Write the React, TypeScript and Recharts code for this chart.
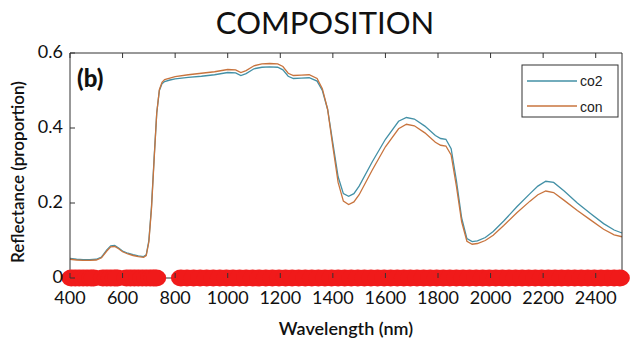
import React from "react";
import { ComposedChart, Line, Scatter, XAxis, YAxis } from "recharts";

// wavelength (nm) and reflectance
const wavelengths = [
  400, 425, 450, 475, 500, 520, 540, 555, 570, 585, 600, 620, 640, 660, 680, 690,
  700, 710, 720, 730, 740, 750, 760, 780, 800, 850, 900, 950, 1000, 1030, 1050,
  1070, 1100, 1130, 1160, 1190, 1210, 1230, 1250, 1280, 1310, 1340, 1360, 1380,
  1400, 1420, 1440, 1460, 1480, 1500, 1550, 1600, 1650, 1680, 1710, 1750, 1790,
  1810, 1830, 1850, 1870, 1890, 1910, 1930, 1950, 1980, 2010, 2050, 2100, 2150,
  2180, 2210, 2240, 2280, 2330, 2380, 2430, 2470, 2500,
];

const co2 = [
  0.052, 0.05, 0.049, 0.049, 0.05, 0.056, 0.075, 0.086, 0.087, 0.08, 0.072, 0.066,
  0.062, 0.059, 0.057, 0.062, 0.1, 0.19, 0.32, 0.44, 0.5, 0.518, 0.524, 0.528,
  0.531, 0.535, 0.538, 0.542, 0.548, 0.547, 0.54, 0.545, 0.558, 0.562, 0.563,
  0.562, 0.555, 0.538, 0.532, 0.533, 0.534, 0.525, 0.5, 0.45, 0.36, 0.27, 0.225,
  0.218, 0.225, 0.245, 0.31, 0.37, 0.418, 0.428, 0.424, 0.405, 0.38, 0.372, 0.37,
  0.345, 0.26, 0.16, 0.105, 0.097, 0.099, 0.108, 0.124, 0.152, 0.19, 0.225, 0.245,
  0.258, 0.255, 0.232, 0.2, 0.172, 0.145, 0.128, 0.12,
];

const con = [
  0.05, 0.048, 0.047, 0.047, 0.048, 0.054, 0.072, 0.083, 0.084, 0.078, 0.07, 0.064,
  0.06, 0.057, 0.055, 0.06, 0.096, 0.185, 0.315, 0.44, 0.502, 0.522, 0.529, 0.533,
  0.537, 0.542, 0.546, 0.55, 0.556, 0.555, 0.548, 0.553, 0.566, 0.571, 0.572,
  0.571, 0.564, 0.546, 0.54, 0.541, 0.542, 0.532, 0.505, 0.45, 0.35, 0.255, 0.205,
  0.196, 0.203, 0.222, 0.288, 0.35, 0.398, 0.41, 0.406, 0.387, 0.362, 0.354,
  0.352, 0.328, 0.245, 0.15, 0.098, 0.09, 0.092, 0.1, 0.114, 0.14, 0.174,
  0.205, 0.222, 0.232, 0.228, 0.207, 0.18, 0.155, 0.13, 0.115, 0.11,
];

// wavelengths flagged as significant (red markers on the baseline)
const sigWavelengths = [
  405, 420, 435, 450, 465, 480, 490,
  525, 540, 555, 570, 580,
  615, 630, 645, 660, 675, 690, 705, 718, 728,
  822, 845, 870, 895, 920, 945, 970, 995, 1020, 1045, 1070, 1095, 1120, 1145,
  1170, 1195, 1220, 1245, 1270, 1295, 1320, 1345, 1370, 1395, 1420, 1445, 1470,
  1495, 1520, 1545, 1570, 1595, 1620, 1645, 1670, 1695, 1720, 1745, 1770, 1795,
  1820, 1845, 1870, 1895, 1920, 1945, 1970, 1995, 2020, 2045, 2070, 2095, 2120,
  2145, 2170, 2195, 2220, 2245, 2270, 2295, 2320, 2345, 2370, 2395, 2420, 2445,
  2470, 2492,
];

const xTicks = [400, 600, 800, 1000, 1200, 1400, 1600, 1800, 2000, 2200, 2400];
const yTicks = [0, 0.2, 0.4, 0.6];

const data = wavelengths.map((w, i) => ({ w, co2: co2[i], con: con[i] }));
const sigData = sigWavelengths.map((w) => ({ w, y: 0 }));

const FONT = "Lato, 'Open Sans', sans-serif";
const AXIS = "#333";
const CO2_COLOR = "#4390a6";
const CON_COLOR = "#c8743e";

const BottomTick = ({ x, y, payload }: any) => (
  <g>
    <line x1={x} y1={y} x2={x} y2={y - 5} stroke={AXIS} />
    <text x={x} y={y + 26} textAnchor="middle" fontSize={18} fontFamily={FONT} fill="#111">
      {payload.value}
    </text>
  </g>
);

const TopTick = ({ x, y }: any) => (
  <line x1={x} y1={y} x2={x} y2={y + 5} stroke={AXIS} />
);

const LeftTick = ({ x, y, payload }: any) => (
  <g>
    <line x1={x} y1={y} x2={x + 5} y2={y} stroke={AXIS} />
    <text x={x - 7} y={y - 1} dy="0.36em" textAnchor="end" fontSize={18} fontFamily={FONT} fill="#111">
      {payload.value === 0 ? "0" : payload.value}
    </text>
  </g>
);

const RightTick = ({ x, y }: any) => (
  <line x1={x} y1={y} x2={x - 5} y2={y} stroke={AXIS} />
);

const Dot = ({ cx, cy }: any) => (
  <ellipse cx={cx} cy={cy} rx={10} ry={8.5} fill="#f01a1a" />
);

export default function App() {
  return (
    <div style={{ position: "absolute", left: 0, top: 0, width: 630, height: 346, background: "#fff" }}>
      <ComposedChart
        width={630}
        height={346}
        data={data}
        margin={{ top: 52, right: 7, bottom: 67, left: 69 }}
      >
        <XAxis
          dataKey="w"
          type="number"
          domain={[400, 2500]}
          ticks={xTicks}
          height={1}
          tickSize={0}
          tickMargin={0}
          tick={<BottomTick />}
          stroke={AXIS}
        />
        <XAxis
          xAxisId="top"
          orientation="top"
          dataKey="w"
          type="number"
          domain={[400, 2500]}
          ticks={xTicks}
          height={1}
          tickSize={0}
          tickMargin={0}
          tick={<TopTick />}
          stroke={AXIS}
        />
        <YAxis
          type="number"
          domain={[0, 0.6]}
          ticks={yTicks}
          width={1}
          tickSize={0}
          tickMargin={0}
          tick={<LeftTick />}
          stroke={AXIS}
        />
        <YAxis
          yAxisId="right"
          orientation="right"
          type="number"
          domain={[0, 0.6]}
          ticks={yTicks}
          width={1}
          tickSize={0}
          tickMargin={0}
          tick={<RightTick />}
          stroke={AXIS}
        />
        <Line
          dataKey="co2"
          stroke={CO2_COLOR}
          strokeWidth={1.3}
          dot={false}
          type="linear"
          isAnimationActive={false}
        />
        <Line
          dataKey="con"
          stroke={CON_COLOR}
          strokeWidth={1.3}
          dot={false}
          type="linear"
          isAnimationActive={false}
        />
        <Scatter data={sigData} dataKey="y" shape={<Dot />} isAnimationActive={false} />
      </ComposedChart>

      <svg
        width={630}
        height={346}
        style={{ position: "absolute", left: 0, top: 0, pointerEvents: "none" }}
      >
        <text x={325} y={34} textAnchor="middle" fontSize={31} fontFamily={FONT} fill="#111">
          COMPOSITION
        </text>
        <text x={346} y={335} textAnchor="middle" fontSize={18} fontWeight={600} fontFamily={FONT} fill="#111">
          Wavelength (nm)
        </text>
        <text
          x={0}
          y={0}
          transform="translate(24,172) rotate(-90)"
          textAnchor="middle"
          fontSize={17}
          fontWeight={600}
          fontFamily={FONT}
          fill="#111"
        >
          Reflectance (proportion)
        </text>
        <text x={77} y={87} fontSize={24} fontWeight={900} fontFamily={FONT} fill="#111">
          (b)
        </text>
        <rect x={522} y={65} width={96} height={52} fill="#fff" stroke="#333" strokeWidth={1} />
        <line x1={527} y1={81} x2={577} y2={81} stroke={CO2_COLOR} strokeWidth={1.3} />
        <line x1={527} y1={106} x2={577} y2={106} stroke={CON_COLOR} strokeWidth={1.3} />
        <text x={580} y={86} fontSize={14} fontFamily="'Liberation Sans', Arial, sans-serif" fill="#222">
          co2
        </text>
        <text x={580} y={112} fontSize={14} fontFamily="'Liberation Sans', Arial, sans-serif" fill="#222">
          con
        </text>
      </svg>
    </div>
  );
}
